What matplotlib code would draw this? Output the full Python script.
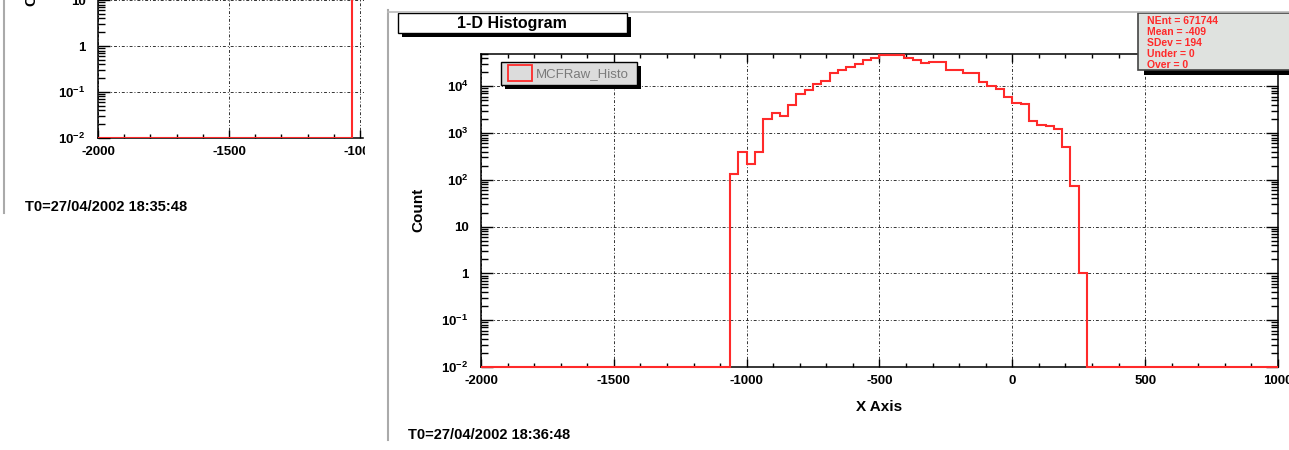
import numpy as np
import matplotlib
matplotlib.use("Agg")
import matplotlib.pyplot as plt
from matplotlib.patches import Rectangle
from matplotlib.ticker import FixedLocator, LogLocator, MultipleLocator, FuncFormatter, NullFormatter

plt.rcParams['font.family'] = ['Liberation Sans', 'DejaVu Sans']
plt.rcParams['font.weight'] = 'bold'
plt.rcParams['axes.labelweight'] = 'bold'
plt.rcParams['axes.unicode_minus'] = False
plt.rcParams['mathtext.default'] = 'regular'

# MCFRaw histogram: 96 bins over [-2000, 1000], filled bins start at first_bin
x_lo, x_hi, n_bins = -2000, 1000, 96
first_bin = 30
counts = [130, 390, 220, 390, 1950, 2700, 2300, 3900, 6700, 8500,
          11000, 13000, 18700, 22000, 26000, 30000, 36000, 41000, 46000, 47500,
          46500, 41000, 36500, 32000, 33000, 33000, 22500, 22500, 19500, 19000,
          12400, 10000, 8900, 5900, 4300, 4200, 1850, 1460, 1400, 1200,
          500, 74, 1]

# same histogram one minute earlier (only its low edge is on screen)
prev_first_bin = 31
prev_counts = [310, 190, 340, 2100]

stat_lines = ["NEnt = 671744", "Mean = -409", "SDev = 194", "Under = 0", "Over = 0"]
hist_title = "1-D Histogram"
hist_name = "MCFRaw_Histo"
stamp_now = "T0=27/04/2002 18:36:48"
stamp_prev = "T0=27/04/2002 18:35:48"
x_ticks = [-2000, -1500, -1000, -500, 0, 500, 1000]
y_ticks = [1e-2, 1e-1, 1, 10, 1e2, 1e3, 1e4]
y_min, y_max = 1e-2, 5e4

RED = '#ff2a2a'
W, H = 1289, 450
PX = 0.72  # points per pixel at 100 dpi


def frac(x0, y0, x1, y1):
    return [x0 / W, 1 - y1 / H, (x1 - x0) / W, (y1 - y0) / H]


def full_hist(first, vals):
    h = np.zeros(n_bins)
    h[first:first + len(vals)] = vals
    return h


def ylab(v, pos):
    if v == 1:
        return '1'
    if v == 10:
        return '10'
    e = int(round(np.log10(v)))
    return r'$10^{%d}$' % e


def style_axes(ax, xmax, right=True):
    ax.set_yscale('log')
    ax.set_xlim(x_lo, xmax)
    ax.set_ylim(y_min, y_max)
    ax.xaxis.set_major_locator(FixedLocator(x_ticks))
    ax.xaxis.set_minor_locator(MultipleLocator(100))
    ax.yaxis.set_major_locator(FixedLocator(y_ticks))
    ax.yaxis.set_minor_locator(LogLocator(base=10, subs=np.arange(2, 10), numticks=30))
    ax.yaxis.set_major_formatter(FuncFormatter(ylab))
    ax.yaxis.set_minor_formatter(NullFormatter())
    ax.tick_params(which='both', direction='in', top=True, right=right,
                   width=1.0, color='k', labelsize=9.5)
    ax.tick_params(axis='x', which='major', length=8 * PX, pad=6)
    ax.tick_params(axis='x', which='minor', length=4 * PX)
    ax.tick_params(axis='y', which='major', length=12 * PX, pad=9)
    ax.tick_params(axis='y', which='minor', length=7 * PX)
    ax.grid(True, which='major', color='#333333', lw=0.7, linestyle=(0, (3, 2, 1, 2)))
    for s in ax.spines.values():
        s.set_linewidth(1.1)


edges = np.linspace(x_lo, x_hi, n_bins + 1)

fig = plt.figure(figsize=(W / 100, H / 100), dpi=100)

# earlier canvas, cut off at the left
axl = fig.add_axes(frac(98, -170, 363.5, 138))
style_axes(axl, -987, right=False)
axl.spines['right'].set_visible(False)
axl.stairs(np.clip(full_hist(prev_first_bin, prev_counts), y_min, None), edges,
           baseline=None, color=RED, lw=1.5, zorder=3)
axl.set_ylabel("Count", fontsize=11, va='center')
axl.yaxis.set_label_coords(-(98 - 31) / 265.5, 0.5)

# current canvas
ax = fig.add_axes(frac(481, 53.5, 1278, 367))
style_axes(ax, x_hi)
ax.stairs(np.clip(full_hist(first_bin, counts), y_min, None), edges,
          baseline=None, color=RED, lw=1.5, zorder=3, clip_on=False)
ax.set_xlabel("X Axis", fontsize=11, va='center')
ax.xaxis.set_label_coords(0.5, -(407 - 367) / 313.5)
ax.set_ylabel("Count", fontsize=11, va='center')
ax.yaxis.set_label_coords(-(481 - 418) / 797, 0.5)

# pixel-space overlay for pads, title, legend and stats boxes
ov = fig.add_axes([0, 0, 1, 1], zorder=10)
ov.set_xlim(0, W)
ov.set_ylim(H, 0)
ov.axis('off')

ov.add_patch(Rectangle((365, 0), 22, H, facecolor='white', edgecolor='none'))
ov.plot([4, 4], [0, 213], color='#aaaaaa', lw=1.5)
ov.plot([388, 388], [10, 440], color='#aaaaaa', lw=1.5)
ov.plot([388, W], [12, 12], color='#bbbbbb', lw=1.2)

# title box with shadow
ov.add_patch(Rectangle((402, 17), 229, 20, facecolor='black', edgecolor='none'))
ov.add_patch(Rectangle((398, 13), 229, 20, facecolor='white', edgecolor='black', lw=1.0))
ov.text(512, 23.5, hist_title, ha='center', va='center', fontsize=11.5)

# legend box
ov.add_patch(Rectangle((505, 66), 136, 23, facecolor='black', edgecolor='none'))
ov.add_patch(Rectangle((501, 62), 136, 23, facecolor='#dcdcdc', edgecolor='black', lw=1.0))
ov.add_patch(Rectangle((508, 65), 24, 16, facecolor='none', edgecolor=RED, lw=1.3))
ov.text(536, 74, hist_name, ha='left', va='center', fontsize=9.5,
        fontweight='normal', color='#7a7a7a')

# stats box
ov.add_patch(Rectangle((1144, 18), 160, 57, facecolor='black', edgecolor='none'))
ov.add_patch(Rectangle((1138, 13), 160, 57, facecolor='#dfe2df', edgecolor='#444444', lw=1.2))
for i, line in enumerate(stat_lines):
    ov.text(1147, 20.5 + i * 11.2, line, ha='left', va='center', fontsize=7.5, color=RED)

ov.text(408, 435, stamp_now, ha='left', va='center', fontsize=10.5)
ov.text(25, 207, stamp_prev, ha='left', va='center', fontsize=10.5)

fig.savefig('out.png', dpi=100)
